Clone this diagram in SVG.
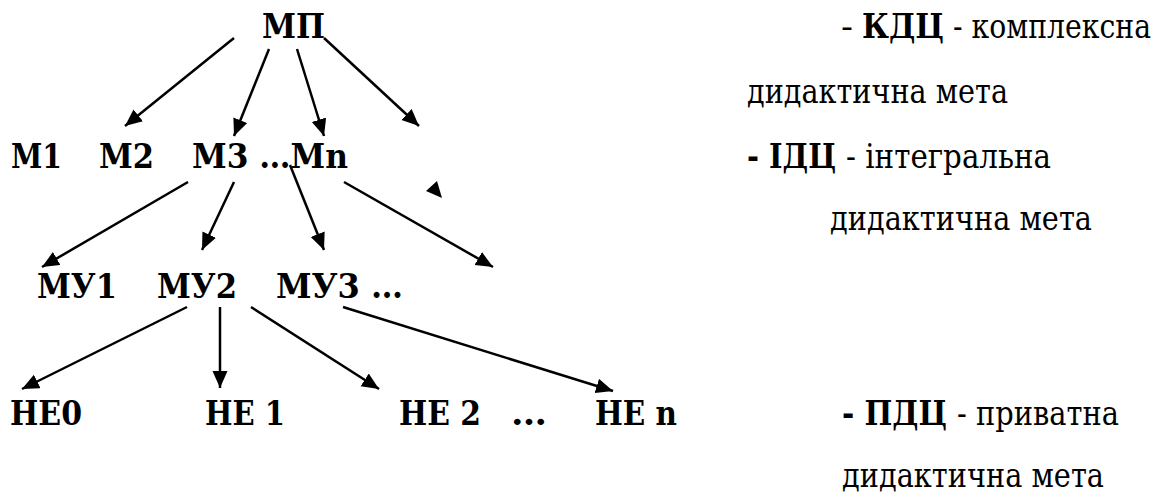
<svg xmlns="http://www.w3.org/2000/svg" width="1165" height="495" viewBox="0 0 1165 495">
<style>
text { font-family: "DejaVu Serif", serif; font-size: 33px; fill: #000; }
.b { font-weight: bold; }
.c line { stroke: #000; stroke-width: 2.5; marker-end: url(#ah); }
</style>
<defs>
<marker id="ah" markerUnits="userSpaceOnUse" markerWidth="18" markerHeight="16" refX="17" refY="7.5" orient="auto">
<path d="M0,0 L17,7.5 L0,15 z" fill="#000"/>
</marker>
</defs>
<rect width="1165" height="495" fill="#fff"/>
<g id="connectors" class="c">
<line x1="234" y1="38" x2="125" y2="126"/>
<line x1="269" y1="49" x2="234" y2="136"/>
<line x1="297" y1="49" x2="324" y2="136"/>
<line x1="324" y1="38" x2="419" y2="126"/>
<line x1="188" y1="182" x2="42" y2="267"/>
<line x1="234" y1="182" x2="202" y2="250"/>
<line x1="290" y1="165" x2="324" y2="250"/>
<line x1="344" y1="182" x2="493" y2="267"/>
<line x1="187" y1="307" x2="22" y2="389"/>
<line x1="220" y1="307" x2="220" y2="388"/>
<line x1="251" y1="307" x2="379" y2="389"/>
<line x1="343" y1="307" x2="613" y2="391"/>
<polygon points="437,181 426,191 442,198" fill="#000"/>
</g>
<g id="node-mp"><text class="b" x="262" y="38" textLength="63" lengthAdjust="spacingAndGlyphs">МП</text></g>
<g id="node-m1"><text class="b" x="11" y="168" textLength="51" lengthAdjust="spacingAndGlyphs">М1</text></g>
<g id="node-m2"><text class="b" x="99" y="168" textLength="55" lengthAdjust="spacingAndGlyphs">М2</text></g>
<g id="node-m3"><text class="b" x="192" y="168" textLength="156" lengthAdjust="spacingAndGlyphs">М3 …Mn</text></g>
<g id="node-mu1"><text class="b" x="37" y="298" textLength="80" lengthAdjust="spacingAndGlyphs">МУ1</text></g>
<g id="node-mu2"><text class="b" x="157" y="298" textLength="80" lengthAdjust="spacingAndGlyphs">МУ2</text></g>
<g id="node-mu3"><text class="b" x="276" y="298" textLength="127" lengthAdjust="spacingAndGlyphs">МУ3 …</text></g>
<g id="node-ne0"><text class="b" x="10" y="425" textLength="72" lengthAdjust="spacingAndGlyphs">НЕ0</text></g>
<g id="node-ne1"><text class="b" x="205" y="425" textLength="80" lengthAdjust="spacingAndGlyphs">НЕ 1</text></g>
<g id="node-ne2"><text class="b" x="399" y="425" textLength="82" lengthAdjust="spacingAndGlyphs">НЕ 2</text></g>
<g id="node-dots"><text class="b" x="511" y="425" textLength="36" lengthAdjust="spacingAndGlyphs">…</text></g>
<g id="node-nen"><text class="b" x="595" y="425" textLength="82" lengthAdjust="spacingAndGlyphs">НЕ n</text></g>
<g id="legend-kdc">
<text x="841" y="38" textLength="12" lengthAdjust="spacingAndGlyphs">-</text>
<text class="b" x="862" y="38" textLength="82" lengthAdjust="spacingAndGlyphs">КДЦ</text>
<text x="953" y="38" textLength="198" lengthAdjust="spacingAndGlyphs">- комплексна</text>
<text x="747" y="103" textLength="261" lengthAdjust="spacingAndGlyphs">дидактична мета</text>
</g>
<g id="legend-idc">
<text class="b" x="747" y="168" textLength="89" lengthAdjust="spacingAndGlyphs">- ІДЦ</text>
<text x="846" y="168" textLength="205" lengthAdjust="spacingAndGlyphs">- інтегральна</text>
<text x="830" y="230" textLength="262" lengthAdjust="spacingAndGlyphs">дидактична мета</text>
</g>
<g id="legend-pdc">
<text class="b" x="842" y="425" textLength="105" lengthAdjust="spacingAndGlyphs">- ПДЦ</text>
<text x="957" y="425" textLength="162" lengthAdjust="spacingAndGlyphs">- приватна</text>
<text x="842" y="487" textLength="262" lengthAdjust="spacingAndGlyphs">дидактична мета</text>
</g>
</svg>
